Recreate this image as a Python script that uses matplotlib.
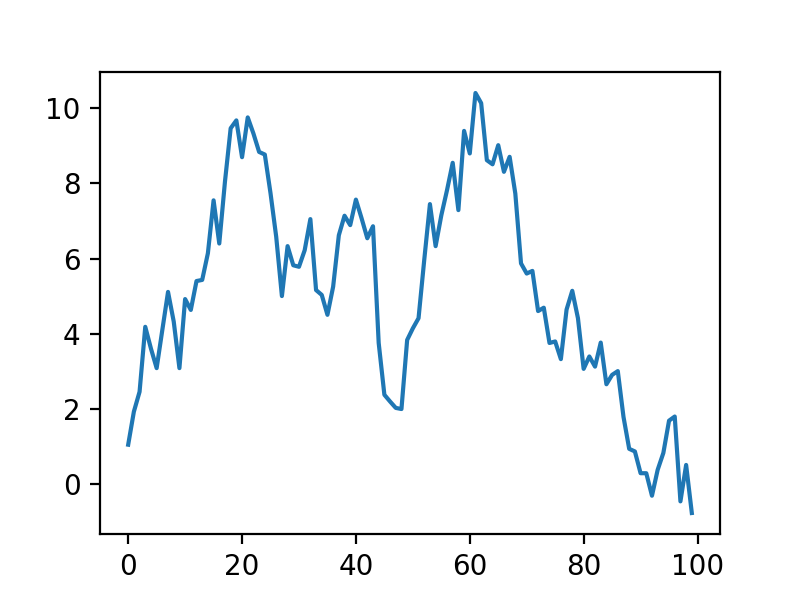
import matplotlib
matplotlib.use("Agg")
import matplotlib.pyplot as plt

steps = list(range(100))
values = [
    1.04, 1.92, 2.45, 4.18, 3.6, 3.08, 4.1, 5.11, 4.32, 3.08,
    4.92, 4.63, 5.4, 5.43, 6.14, 7.55, 6.4, 8.05, 9.47, 9.68,
    8.7, 9.76, 9.33, 8.84, 8.77, 7.74, 6.58, 5.0, 6.33, 5.82,
    5.78, 6.22, 7.05, 5.16, 5.03, 4.5, 5.25, 6.62, 7.14, 6.89,
    7.57, 7.07, 6.54, 6.86, 3.75, 2.37, 2.19, 2.02, 1.99, 3.83,
    4.14, 4.41, 5.96, 7.45, 6.33, 7.15, 7.82, 8.55, 7.29, 9.4,
    8.8, 10.41, 10.14, 8.62, 8.51, 9.02, 8.31, 8.71, 7.73, 5.87,
    5.6, 5.67, 4.6, 4.69, 3.75, 3.79, 3.32, 4.64, 5.14, 4.41,
    3.06, 3.39, 3.12, 3.76, 2.65, 2.9, 3.0, 1.78, 0.93, 0.86,
    0.28, 0.28, -0.32, 0.37, 0.82, 1.68, 1.79, -0.47, 0.5, -0.78,
]

# 4x3 inches at 200 dpi -> 800x600, default styling
fig, ax = plt.subplots(figsize=(4, 3), dpi=200)
ax.plot(steps, values)

fig.savefig("out.png", dpi=200)
